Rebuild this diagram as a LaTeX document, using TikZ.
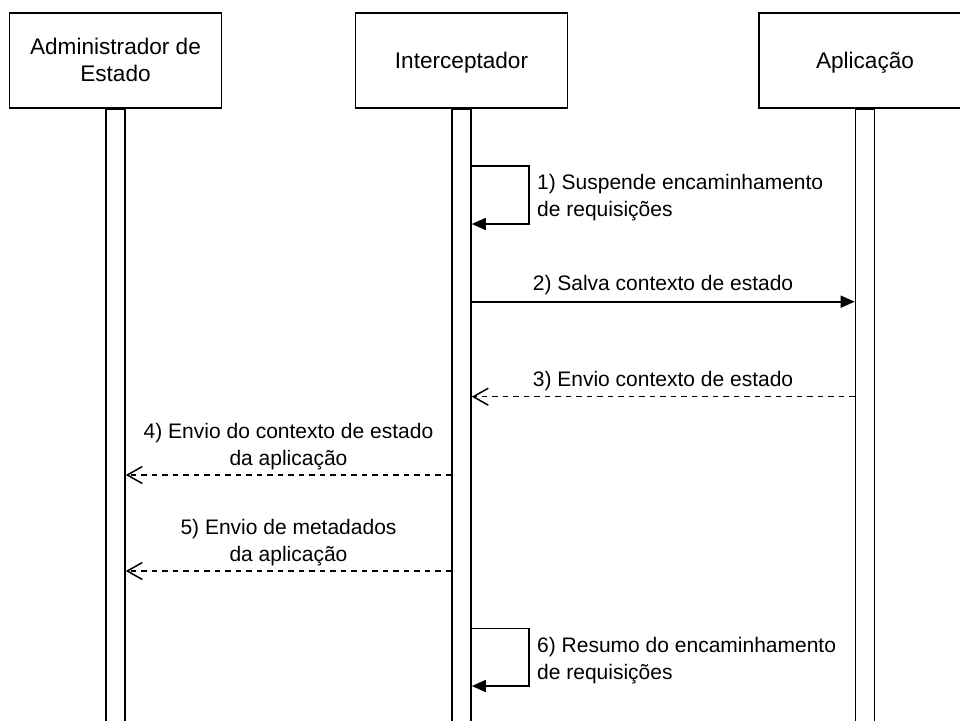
\documentclass[tikz,border=0pt]{standalone}
\usepackage{fontspec}
\setmainfont{Liberation Sans}
\usetikzlibrary{arrows.meta}

\newcommand{\titlefont}{\fontsize{22.6pt}{27.4pt}\selectfont}
\newcommand{\labelfont}{\fontsize{21pt}{27pt}\selectfont}
\newcommand{\lines}[2]{\begin{tabular}[t]{@{}#1@{}}#2\end{tabular}}

\tikzset{
  actor/.style={draw=black, line width=1.6pt, fill=white, inner sep=0pt,
    minimum width=212pt, minimum height=95pt},
  lifebar/.style={draw=black, line width=1.6pt, fill=white, inner sep=0pt,
    minimum width=19pt, minimum height=660pt, anchor=north},
  title/.style={inner sep=0pt, anchor=base, font=\titlefont},
  msglabel/.style={inner sep=0pt, anchor=base, font=\labelfont},
  synccall/.style={draw=black, line width=1.6pt,
    -{Triangle[length=14pt, width=12pt]}},
  reply/.style={draw=black, line width=1.5pt, dash pattern=on 5.5pt off 5pt,
    -{Straight Barb[length=15pt, width=17pt, line width=1.5pt]}},
}

\begin{document}
\begin{tikzpicture}[x=1pt, y=-1pt]
  \useasboundingbox (0,0) rectangle (960,720);
  \clip (0,0) rectangle (960,720);
  \fill[white] (0,0) rectangle (960,720);

  % participants
  \node[actor] (adm) at (115.5,60.5) {};
  \node[actor] (int) at (461.5,60.5) {};
  \node[actor] (app) at (865,60.5) {};
  \node[title] (admtxt) at (115.5,54.3) {\lines{c}{Administrador de\\Estado}};
  \node[title] (inttxt) at (461.5,68.3) {Interceptador};
  \node[title] (apptxt) at (865,68.3) {Aplicação};

  % activation bars
  \node[lifebar] (badm) at (adm.south) {};
  \node[lifebar] (bint) at (int.south) {};
  \node[lifebar] (bapp) at (app.south) {};

  % message rows
  \coordinate (s1a) at (529,165.7);
  \coordinate (s1b) at (529,224);
  \coordinate (r2) at (0,301.7);
  \coordinate (r3) at (0,396.7);
  \coordinate (r4) at (0,475);
  \coordinate (r5) at (0,571);
  \coordinate (s6a) at (529,628.3);
  \coordinate (s6b) at (529,686);

  % 1) self call
  \draw[synccall] (bint.east |- s1a) -- (s1a) -- (s1b) -- (bint.east |- s1b);
  \node[msglabel, anchor=base west] (l1) at (537,189.7)
    {\lines{l}{1) Suspende encaminhamento\\de requisições}};

  % 2) call to the application
  \draw[synccall] (bint.east |- r2) -- (bapp.west |- r2);
  \node[msglabel] (l2) at (663,290.7) {2) Salva contexto de estado};

  % 3) reply from the application
  \draw[reply] (bapp.west |- r3) -- (bint.east |- r3);
  \node[msglabel] (l3) at (663,386.7) {3) Envio contexto de estado};

  % 4) and 5) to the state manager
  \draw[reply] (bint.west |- r4) -- (badm.east |- r4);
  \node[msglabel] (l4) at (288.5,438.3)
    {\lines{c}{4) Envio do contexto de estado\\da aplicação}};

  \draw[reply] (bint.west |- r5) -- (badm.east |- r5);
  \node[msglabel] (l5) at (288.5,534)
    {\lines{c}{5) Envio de metadados\\da aplicação}};

  % 6) self call
  \draw[synccall] (bint.east |- s6a) -- (s6a) -- (s6b) -- (bint.east |- s6b);
  \node[msglabel, anchor=base west] (l6) at (537,652)
    {\lines{l}{6) Resumo do encaminhamento\\de requisições}};
\end{tikzpicture}
\end{document}
